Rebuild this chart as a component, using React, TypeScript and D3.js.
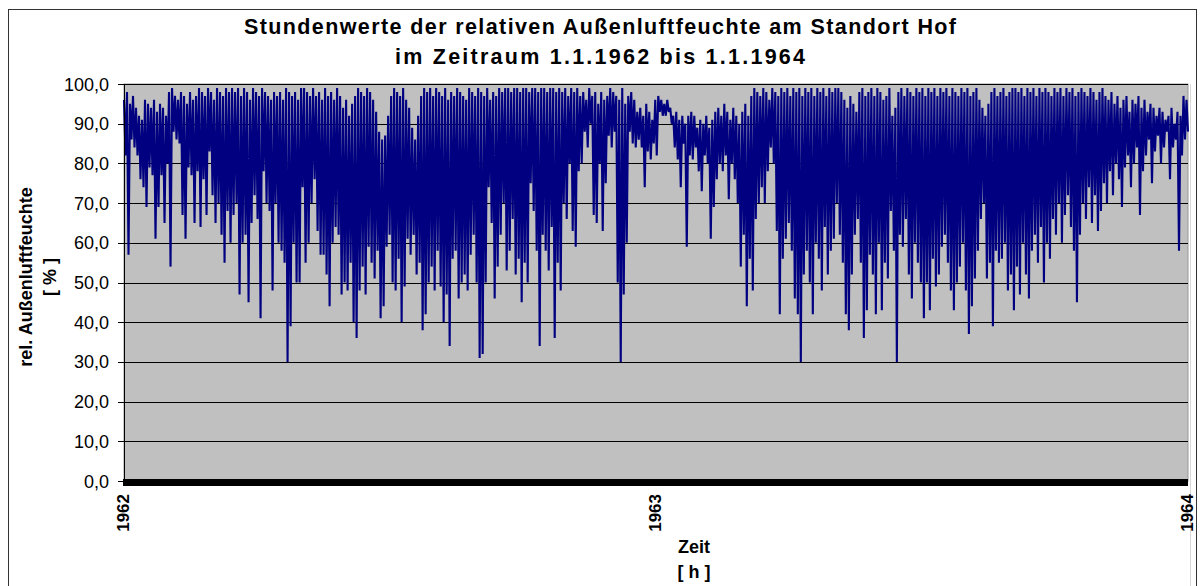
import React from "react";
import * as d3 from "d3";

// Highest hourly value within each ~3px slice of the time axis
const peaks: number[] = [
  96,98,95,97,94,92,91,96,95,94, 96,93,95,94,92,98,99,97,96,98, 97,95,98,96,97,99,98,97,99,98, 96,99,98,97,99,98,99,98,99,97, 99,98,96,99,98,97,99,98,97,96, 98,97,98,96,99,98,97,98,96,99,
  99,98,97,99,97,98,96,99,97,98, 96,99,97,94,96,92,95,97,99,98, 97,99,98,96,93,88,86,87,92,97, 99,98,97,99,96,94,89,86,92,97, 99,98,99,97,99,98,97,99,96,98, 97,99,98,97,96,99,98,97,99,
  98,97,99,96,98,97,99,98,99,99, 98,99,99,98,99,99,98,99,99,98, 99,99,98,99,99,98,99,98,99,97, 99,98,99,97,98,96,99,97,98,95, 98,96,97,99,98,97,96,99,95,97, 98,96,93,94,92,95,93,91,96,
  97,96,95,96,94,92,93,91,92,90, 92,93,92,89,91,90,92,89,91,93, 94,92,95,93,91,94,92,90,93,95, 92,97,99,98,97,99,98,96,99,98, 97,99,98,99,97,99,98,99,97,99, 98,99,97,99,98,99,97,99,98,99,
  99,98,96,94,97,95,93,98,99,97, 98,99,97,99,98,96,97,99,92,94, 98,99,97,99,98,97,99,98,99,97, 99,98,99,97,99,98,99,97,99,98, 97,99,98,99,97,98,99,96,94,92, 95,98,99,97,98,99,97,98,99,
  99,98,99,97,99,98,99,97,99,98, 99,98,97,99,98,99,97,99,98,99, 97,98,99,98,97,99,98,96,98,99, 97,96,98,95,97,94,96,97,93,96, 95,97,94,96,93,95,94,92,94,93, 91,92,94,90,93,92,97,96,
];

// Lowest hourly value within each slice
const troughs: number[] = [
  82,57,86,84,82,76,74,69,79,77, 61,69,77,65,80,54,88,86,85,67, 61,79,77,65,78,64,76,67,83,72, 65,70,62,55,68,60,67,70,47,60, 62,45,65,72,66,41,78,70,68,48, 70,60,58,55,30,39,60,50,50,74,
  55,60,70,76,63,57,57,52,44,60, 64,62,47,50,48,55,40,36,48,54, 47,59,55,51,58,41,44,59,62,50, 48,56,40,49,61,57,62,52,55,38, 42,50,54,48,58,49,40,47,34,56, 58,46,50,52,48,57,62,50,31,
  32,50,74,65,46,54,62,70,53,58, 66,52,56,45,55,50,75,68,58,34, 62,58,53,64,36,55,48,70,66,80, 63,59,78,80,88,84,90,67,65,80, 63,75,87,84,88,50,30,47,60,88, 85,84,86,84,74,83,81,85,82,
  93,92,92,93,90,84,81,74,85,59, 82,81,84,78,73,82,80,61,69,76, 80,78,82,71,80,76,70,54,62,44, 56,48,66,70,74,70,78,84,80,63, 42,56,61,65,58,46,42,30,52,58, 50,42,60,56,48,64,52,58,61,70,
  62,55,42,38,52,62,66,55,36,43, 57,52,42,60,43,55,51,68,58,30, 62,59,66,52,46,60,55,50,41,50, 43,56,49,52,59,62,55,48,43,50, 54,60,48,37,44,51,58,66,70,51, 55,39,58,55,56,60,48,52,43,
  54,47,60,52,46,58,62,55,64,50, 60,56,66,62,70,60,67,72,64,58, 45,62,70,66,74,65,72,63,68,75, 70,78,72,80,76,69,79,82,74,80, 84,67,78,82,86,75,83,87,80,84, 88,76,84,86,58,82,86,88,
];

const yTicks: number[] = [0, 10, 20, 30, 40, 50, 60, 70, 80, 90, 100];
const xTickHours: number[] = [0, 8760, 17520];
const xTickLabels: string[] = ["1962", "1963", "1964"];
const titleLines: string[] = [
  "Stundenwerte der relativen Außenluftfeuchte am Standort Hof",
  "im Zeitraum 1.1.1962 bis 1.1.1964",
];
const titleWidths: number[] = [712, 410];

const W = 1201;
const H = 586;
const M = { left: 124, right: 1188, top: 84, bottom: 481 };
const FONT = "'Liberation Sans', Arial, sans-serif";

export default function App() {
  // interleave peaks and troughs into the hourly-like trace
  const series: number[] = [];
  peaks.forEach((p, i) => {
    series.push(p);
    series.push(troughs[i]);
  });
  const totalHours = 17520;
  const x = d3.scaleLinear().domain([0, totalHours]).range([M.left, M.right]);
  const y = d3.scaleLinear().domain([0, 100]).range([M.bottom, M.top]);
  const step = totalHours / (series.length - 1);
  const line = d3
    .line<number>()
    .x((_, i) => x(i * step))
    .y((d) => y(d));
  const fmt = (v: number) => v.toFixed(1).replace(".", ",");

  return (
    <svg
      width={W}
      height={H}
      style={{ position: "absolute", left: 0, top: 0, display: "block", background: "#fff" }}
    >
      <rect x={0} y={0} width={W} height={H} fill="#fff" />
      {/* outer chart frame */}
      <rect x={8.5} y={9.5} width={1188} height={620} fill="none" stroke="#333" strokeWidth={1} />

      {/* title */}
      {titleLines.map((t, i) => (
        <text
          key={i}
          x={600}
          y={34 + i * 30}
          textAnchor="middle"
          fontFamily={FONT}
          fontWeight="bold"
          fontSize={21.5}
          textLength={titleWidths[i]}
          lengthAdjust="spacing"
          fill="#000"
        >
          {t}
        </text>
      ))}

      {/* plot area */}
      <rect x={M.left} y={M.top} width={M.right - M.left} height={M.bottom - M.top} fill="#c0c0c0" stroke="#999" strokeWidth={1} />
      <line x1={M.right + 2.5} x2={M.right + 2.5} y1={M.top} y2={H} stroke="#d8d8d8" strokeWidth={1} />

      {/* gridlines */}
      {yTicks.map((t) => (
        <line key={t} x1={M.left} x2={M.right} y1={Math.round(y(t)) + 0.5} y2={Math.round(y(t)) + 0.5} stroke="#000" strokeWidth={1} />
      ))}

      {/* data */}
      <path d={line(series) || ""} fill="none" stroke="#000080" strokeWidth={2.1} strokeLinejoin="miter" strokeMiterlimit={2} />

      {/* y axis */}
      <line x1={M.left + 0.5} x2={M.left + 0.5} y1={M.top} y2={M.bottom} stroke="#000" strokeWidth={1} />
      {yTicks.map((t) => (
        <g key={t}>
          <line x1={M.left - 6} x2={M.left} y1={Math.round(y(t)) + 0.5} y2={Math.round(y(t)) + 0.5} stroke="#000" />
          <text x={109} y={y(t) + 6.5} textAnchor="end" fontFamily={FONT} fontSize={18} fill="#000">
            {fmt(t)}
          </text>
        </g>
      ))}

      {/* thick x axis */}
      <rect x={M.left - 1} y={y(0) - 2} width={M.right - M.left + 1} height={7} fill="#000" />

      {/* x tick labels */}
      {xTickHours.map((h, i) => (
        <text
          key={h}
          transform={`translate(${x(h) + 5},${494}) rotate(-90)`}
          textAnchor="end"
          fontFamily={FONT}
          fontWeight="bold"
          fontSize={17}
          fill="#000"
        >
          {xTickLabels[i]}
        </text>
      ))}

      {/* axis titles */}
      <text x={694} y={553} textAnchor="middle" fontFamily={FONT} fontWeight="bold" fontSize={18} fill="#000">Zeit</text>
      <text x={694} y={578} textAnchor="middle" fontFamily={FONT} fontWeight="bold" fontSize={18} fill="#000">[ h ]</text>

      <text transform={`translate(32,277) rotate(-90)`} textAnchor="middle" fontFamily={FONT} fontWeight="bold" fontSize={18} fill="#000">
        rel. Außenluftfeuchte
      </text>
      <text transform={`translate(56,277) rotate(-90)`} textAnchor="middle" fontFamily={FONT} fontWeight="bold" fontSize={18} fill="#000">
        [ % ]
      </text>
    </svg>
  );
}
